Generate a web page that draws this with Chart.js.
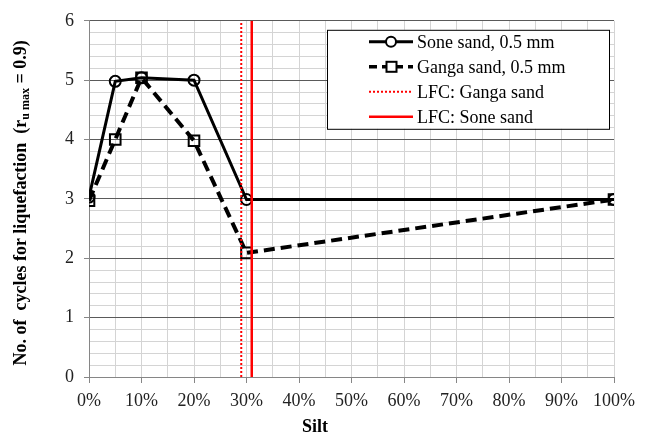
<!DOCTYPE html>
<html>
<head>
<meta charset="utf-8">
<script src="https://cdn.jsdelivr.net/npm/chart.js@4"></script>
<style>
  html, body { margin: 0; padding: 0; background: #fff; }
  #wrap { width: 651px; height: 435px; }
</style>
</head>
<body>
<div id="wrap"><canvas id="grafico" width="651" height="435"></canvas></div>
<script>
  // dados
  var silt = [0, 5, 10, 20, 30, 100];
  var sone = [3.03, 4.98, 5.04, 5.0, 2.99, 2.99];
  var ganga = [2.97, 4.0, 5.04, 3.98, 2.09, 2.99];
  var lfcGanga = 29;
  var lfcSone = 31;
  var nomes = ['Sone sand, 0.5 mm', 'Ganga sand, 0.5 mm', 'LFC: Ganga sand', 'LFC: Sone sand'];

  function pontos(ys) {
    return silt.map(function (x, i) { return { x: x, y: ys[i] }; });
  }

  var serif = '"Liberation Serif", "Times New Roman", serif';

  function ehInteiro(v) { return Math.abs(v - Math.round(v)) < 1e-6; }
  function ehDez(v) { return Math.abs(v / 10 - Math.round(v / 10)) < 1e-6; }

  // legenda e títulos desenhados à mão
  var extras = {
    id: 'extras',
    afterDraw: function (chart) {
      var c = chart.ctx;
      var a = chart.chartArea;
      c.save();

      // título do eixo y com subscrito
      c.translate(21, (a.top + a.bottom) / 2 + 4);
      c.rotate(-Math.PI / 2);
      c.fillStyle = '#000';
      c.textBaseline = 'middle';
      var f1 = 'bold 18px ' + serif, f2 = 'bold 12px ' + serif;
      var partes = [['No. of  cycles for liquefaction  (r', f1, 0], ['u max', f2, 5], [' = 0.9)', f1, 0]];
      var total = 0;
      partes.forEach(function (p) { c.font = p[1]; total += c.measureText(p[0]).width; });
      var px = -total / 2;
      partes.forEach(function (p) {
        c.font = p[1];
        c.fillText(p[0], px, p[2]);
        px += c.measureText(p[0]).width;
      });
      c.restore();

      // título do eixo x
      c.save();
      c.font = 'bold 18px ' + serif;
      c.fillStyle = '#000';
      c.textAlign = 'center';
      c.textBaseline = 'middle';
      c.fillText('Silt', 315, 427);
      c.restore();

      // caixa da legenda
      c.save();
      var bx = a.left + 238, by = a.top + 9, bw = 282, bh = 99;
      c.fillStyle = '#fff';
      c.fillRect(bx, by, bw, bh);
      c.strokeStyle = '#000';
      c.lineWidth = 1;
      c.strokeRect(bx + 0.5, by + 0.5, bw, bh);
      var estilos = [
        { cor: '#000', larg: 3, dash: [], marca: 'circle' },
        { cor: '#000', larg: 3.5, dash: [8, 5], marca: 'rect' },
        { cor: '#ff0000', larg: 2, dash: [2, 2], marca: null },
        { cor: '#ff0000', larg: 2.5, dash: [], marca: null }
      ];
      c.font = '18px ' + serif;
      c.textBaseline = 'middle';
      for (var i = 0; i < nomes.length; i++) {
        var y = by + 12 + i * 25;
        var e = estilos[i];
        c.strokeStyle = e.cor;
        c.lineWidth = e.larg;
        c.setLineDash(e.dash);
        c.beginPath();
        c.moveTo(bx + 42, y);
        c.lineTo(bx + 86, y);
        c.stroke();
        c.setLineDash([]);
        c.lineWidth = 2;
        c.fillStyle = '#fff';
        if (e.marca === 'circle') {
          c.beginPath();
          c.arc(bx + 64, y, 5, 0, Math.PI * 2);
          c.fill();
          c.stroke();
        } else if (e.marca === 'rect') {
          c.fillRect(bx + 59.5, y - 5, 10, 10);
          c.strokeRect(bx + 59.5, y - 5, 10, 10);
        }
        c.fillStyle = '#000';
        c.fillText(nomes[i], bx + 90, y + 1);
      }
      c.restore();
    }
  };

  var ctx = document.getElementById('grafico').getContext('2d');
  var grafico = new Chart(ctx, {
    type: 'scatter',
    data: {
      datasets: [{
        label: nomes[2],
        data: [{ x: lfcGanga, y: 0 }, { x: lfcGanga, y: 6 }],
        showLine: true,
        borderColor: '#ff0000',
        borderWidth: 2,
        borderDash: [2, 2],
        pointRadius: 0
      }, {
        label: nomes[3],
        data: [{ x: lfcSone, y: 0 }, { x: lfcSone, y: 6 }],
        showLine: true,
        borderColor: '#ff0000',
        borderWidth: 2.5,
        pointRadius: 0
      }, {
        label: nomes[1],
        data: pontos(ganga),
        showLine: true,
        borderColor: '#000',
        borderWidth: 4,
        borderDash: [11, 6],
        pointStyle: 'rect',
        pointRadius: 7.5,
        pointBorderWidth: 2,
        pointBackgroundColor: 'rgba(255,255,255,0)',
        pointBorderColor: '#000'
      }, {
        label: nomes[0],
        data: pontos(sone),
        showLine: true,
        borderColor: '#000',
        borderWidth: 3,
        pointStyle: 'circle',
        pointRadius: 5.5,
        pointBorderWidth: 2,
        pointBackgroundColor: 'rgba(255,255,255,0)',
        pointBorderColor: '#000'
      }]
    },
    options: {
      responsive: false,
      animation: false,
      layout: { padding: { top: 16, right: 37, left: 0, bottom: 0 } },
      plugins: {
        legend: { display: false },
        tooltip: { enabled: false }
      },
      scales: {
        x: {
          type: 'linear',
          min: 0,
          max: 100,
          afterFit: function (s) { s.height = 58; },
          ticks: {
            stepSize: 5,
            autoSkip: false,
            maxRotation: 0,
            padding: 7,
            color: '#222',
            font: { family: serif, size: 18 },
            callback: function (v) { return ehDez(v) ? v + '%' : ''; }
          },
          grid: {
            color: '#d4d4d4',
            lineWidth: 1,
            tickLength: 6,
            tickColor: function (c) { return ehDez(c.tick.value) ? '#868686' : 'rgba(0,0,0,0)'; }
          },
          border: { color: '#868686', width: 1 }
        },
        y: {
          min: 0,
          max: 6,
          afterFit: function (s) { s.width = 89; },
          ticks: {
            stepSize: 0.2,
            autoSkip: false,
            padding: 10,
            color: '#222',
            font: { family: serif, size: 18 },
            callback: function (v) { return ehInteiro(v) ? Math.round(v) : ''; }
          },
          grid: {
            color: function (c) { return ehInteiro(c.tick.value) ? '#5a5a5a' : '#d4d4d4'; },
            lineWidth: 1,
            tickLength: 5,
            tickColor: function (c) { return ehInteiro(c.tick.value) ? '#868686' : 'rgba(0,0,0,0)'; }
          },
          border: { color: '#868686', width: 1 }
        }
      }
    },
    plugins: [extras]
  });
</script>
</body>
</html>
